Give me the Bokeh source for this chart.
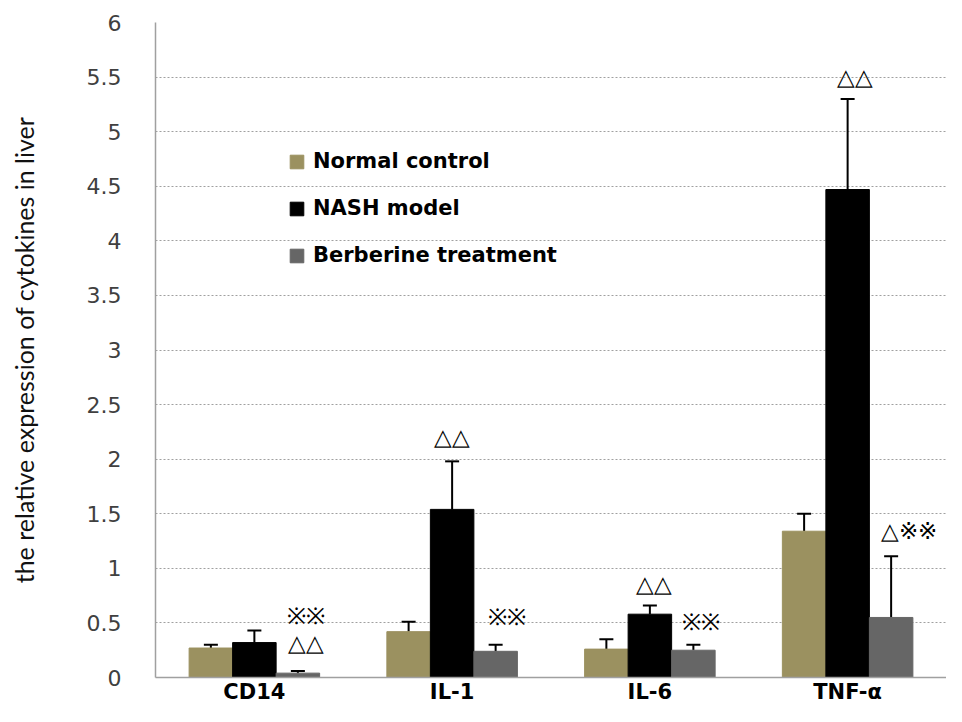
from bokeh.plotting import figure
from bokeh.models import (ColumnDataSource, FactorRange, Range1d, Whisker, TeeHead,
                          LabelSet, Legend, LegendItem, SingleIntervalTicker)
from bokeh.transform import dodge
from bokeh.embed import file_html
from bokeh.resources import INLINE

categories = ["CD14", "IL-1", "IL-6", "TNF-α"]
series_names = ["Normal control", "NASH model", "Berberine treatment"]
normal = [0.27, 0.42, 0.26, 1.34]
normal_err = [0.03, 0.09, 0.09, 0.16]
nash = [0.32, 1.54, 0.58, 4.47]
nash_err = [0.11, 0.44, 0.08, 0.83]
berberine = [0.04, 0.24, 0.25, 0.55]
berberine_err = [0.02, 0.06, 0.05, 0.56]

ann_cat = ["CD14", "CD14", "IL-1", "IL-1", "IL-6", "IL-6", "TNF-α", "TNF-α"]
ann_off = [0.26, 0.26, 0.0, 0.28, 0.02, 0.26, 0.035, 0.31]
ann_y = [0.56, 0.31, 2.2, 0.55, 0.85, 0.50, 5.5, 1.34]
ann_text = ["※※", "△△", "△△", "※※", "△△", "※※", "△△", "△※※"]

colors = ["#9B9160", "#000000", "#666666"]
offsets = [-0.22, 0.0, 0.22]

p = figure(x_range=FactorRange(*categories, range_padding=0), y_range=Range1d(0, 6),
           width=946, height=706, output_backend="svg", toolbar_location=None,
           min_border_left=155, min_border_right=0, min_border_top=22, min_border_bottom=27)
p.outline_line_color = None
p.background_fill_color = "white"

items = []
for name, vals, errs, col, off in zip(series_names, [normal, nash, berberine],
                                       [normal_err, nash_err, berberine_err], colors, offsets):
    src = ColumnDataSource(dict(cat=categories, value=vals,
                                upper=[v + e for v, e in zip(vals, errs)]))
    r = p.vbar(x=dodge("cat", off, range=p.x_range), top="value", width=0.22, source=src,
               fill_color=col, line_color=col)
    w = Whisker(source=src, base=dodge("cat", off, range=p.x_range), upper="upper", lower="value",
                upper_head=TeeHead(size=14, line_width=2, line_color="black"), lower_head=None,
                line_width=2, line_color="black")
    p.add_layout(w)
    items.append(LegendItem(label=name, renderers=[r]))

ann_x = [categories.index(c) + 0.5 + o for c, o in zip(ann_cat, ann_off)]
ann_src = ColumnDataSource(dict(x=ann_x, y=ann_y, text=ann_text))
labels = LabelSet(x="x", y="y", text="text", source=ann_src, text_align="center",
                  text_baseline="middle", text_font="Noto Sans CJK SC", text_font_size="23px",
                  text_color="black")
p.add_layout(labels)

legend = Legend(items=items, location=(133, 410), orientation="vertical",
                glyph_width=17, glyph_height=17, label_standoff=8, spacing=23, padding=0, margin=0,
                border_line_color=None, background_fill_alpha=0,
                label_text_font="DejaVu Sans", label_text_font_style="bold",
                label_text_font_size="21px", label_text_color="black")
p.add_layout(legend)

p.yaxis.ticker = SingleIntervalTicker(interval=0.5)
p.yaxis.major_tick_line_color = None
p.yaxis.major_tick_out = 0
p.yaxis.major_tick_in = 0
p.yaxis.minor_tick_line_color = None
p.yaxis.axis_line_color = "#A0A0A0"
p.yaxis.axis_line_width = 1.5
p.yaxis.major_label_standoff = 30
p.yaxis.major_label_text_font = "DejaVu Sans"
p.yaxis.major_label_text_font_size = "22px"
p.yaxis.major_label_text_color = "#404040"
p.yaxis.axis_label = "the relative expression of cytokines in liver"
p.yaxis.axis_label_text_font = "Lato"
p.yaxis.axis_label_text_font_style = "normal"
p.yaxis.axis_label_text_font_size = "25px"
p.yaxis.axis_label_text_color = "#111111"
p.yaxis.axis_label_standoff = 45

p.xaxis.major_tick_line_color = None
p.xaxis.major_tick_out = 0
p.xaxis.major_tick_in = 0
p.xaxis.minor_tick_line_color = None
p.xaxis.axis_line_color = "#A0A0A0"
p.xaxis.axis_line_width = 1.5
p.xaxis.major_label_standoff = 2
p.xaxis.major_label_text_font = "DejaVu Sans"
p.xaxis.major_label_text_font_style = "bold"
p.xaxis.major_label_text_font_size = "21px"
p.xaxis.major_label_text_color = "black"

p.xgrid.grid_line_color = None
p.ygrid.grid_line_color = "#A0A0A0"
p.ygrid.grid_line_dash = "2 2"
p.ygrid.grid_line_width = 1

open("out.html", "w").write(file_html(p, INLINE))
